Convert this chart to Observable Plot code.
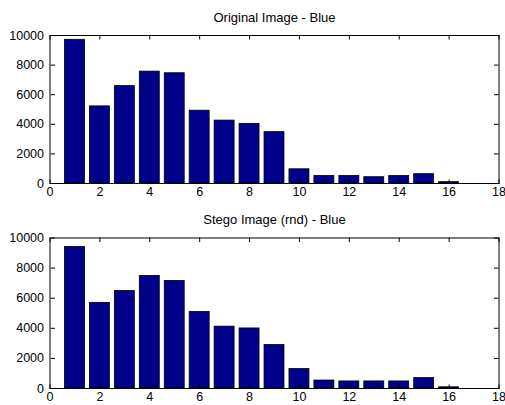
<!DOCTYPE html>
<html>
<head>
<meta charset="utf-8">
<script src="https://cdn.jsdelivr.net/npm/d3@7"></script>
<script src="https://cdn.jsdelivr.net/npm/@observablehq/plot@0.6"></script>
<style>
  html, body { margin: 0; padding: 0; background: #fff; }
  #chart svg { display: block; }
</style>
</head>
<body>
<div id="chart"></div>
<script>
const bins = [1, 2, 3, 4, 5, 6, 7, 8, 9, 10, 11, 12, 13, 14, 15, 16];
const originalBlue = [9710, 5210, 6580, 7560, 7450, 4920, 4250, 4030, 3470, 960, 510, 510, 425, 510, 630, 90];
const stegoBlue = [9400, 5690, 6480, 7480, 7150, 5090, 4110, 3990, 2890, 1290, 530, 470, 470, 470, 690, 80];
const titles = ["Original Image - Blue", "Stego Image (rnd) - Blue"];
const xTicks = [0, 2, 4, 6, 8, 10, 12, 14, 16, 18];
const yTicks = [0, 2000, 4000, 6000, 8000, 10000];

const font = "Liberation Sans, Arial, Helvetica, sans-serif";
const blank = () => "";

function panel(values, title, height, marginTop, marginBottom) {
  const data = bins.map((b, i) => ({bin: b, count: values[i]}));
  return Plot.plot({
    width: 505,
    height,
    marginTop,
    marginBottom,
    marginLeft: 49.5,
    marginRight: 6.5,
    style: {fontFamily: font, fontSize: "12px", color: "#000", background: "#fff"},
    x: {domain: [0, 18], label: null},
    y: {domain: [0, 10000], label: null},
    marks: [
      Plot.rect(data, {
        x1: d => d.bin - 0.4, x2: d => d.bin + 0.4, y1: 0, y2: "count",
        fill: "#00008b", stroke: "#000", strokeWidth: 0.8
      }),
      Plot.frame({stroke: "#000", strokeWidth: 1}),
      // labels
      Plot.axisX({ticks: xTicks, tickSize: 0, tickPadding: 4, tickFormat: d => String(d), fontSize: 12.5, label: null}),
      Plot.axisY({ticks: yTicks, tickSize: 0, tickPadding: 6, tickFormat: d => String(d), fontSize: 12.5, label: null}),
      // inward ticks
      Plot.axisX({ticks: xTicks, anchor: "top", frameAnchor: "bottom", tickSize: 4.5, tickFormat: blank, label: null}),
      Plot.axisX({ticks: xTicks, anchor: "bottom", frameAnchor: "top", tickSize: 4.5, tickFormat: blank, label: null}),
      Plot.axisY({ticks: yTicks, anchor: "right", frameAnchor: "left", tickSize: 4.5, tickFormat: blank, label: null}),
      Plot.axisY({ticks: yTicks, anchor: "left", frameAnchor: "right", tickSize: 4.5, tickFormat: blank, label: null}),
      Plot.text([title], {
        text: d => d, frameAnchor: "top", dy: -18, lineAnchor: "middle",
        fontSize: 13, fill: "#000"
      })
    ]
  });
}

const chart = document.getElementById("chart");
chart.append(panel(originalBlue, titles[0], 200, 35, 17));
chart.append(panel(stegoBlue, titles[1], 205, 37.5, 17));
</script>
</body>
</html>
